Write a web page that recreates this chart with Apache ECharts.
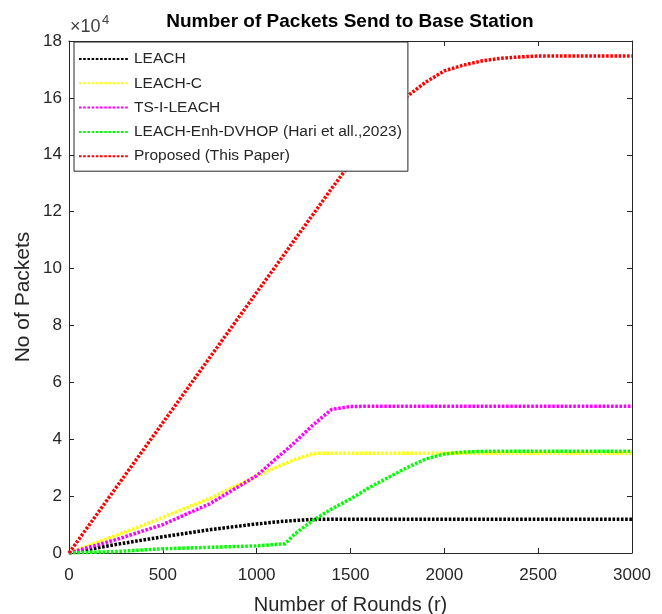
<!DOCTYPE html>
<html>
<head>
<meta charset="utf-8">
<script src="https://cdn.jsdelivr.net/npm/echarts@6/dist/echarts.min.js"></script>
<style>
html,body{margin:0;padding:0;background:#fff;}
#chart{width:662px;height:614px;}
</style>
</head>
<body>
<div id="chart"></div>
<script>
// Rounds (x values)
var rounds = [0, 250, 500, 750, 1000, 1100, 1150, 1200, 1300, 1400, 1500, 1600, 1700, 1800, 1900, 2000, 2100, 2200, 2300, 2400, 2500, 2750, 3000];
// Packets, in units of 10^4
var leach      = [0, 0.30, 0.57, 0.82, 1.02, 1.09, 1.12, 1.14, 1.18, 1.19, 1.19, 1.19, 1.19, 1.19, 1.19, 1.19, 1.19, 1.19, 1.19, 1.19, 1.19, 1.19, 1.19];
var leachC     = [0, 0.62, 1.25, 1.92, 2.70, 3.00, 3.14, 3.28, 3.50, 3.51, 3.51, 3.51, 3.51, 3.51, 3.51, 3.51, 3.51, 3.51, 3.51, 3.51, 3.51, 3.51, 3.51];
var tsILeach   = [0, 0.47, 1.00, 1.73, 2.72, 3.30, 3.58, 3.87, 4.50, 5.05, 5.15, 5.16, 5.16, 5.16, 5.16, 5.16, 5.16, 5.16, 5.16, 5.16, 5.16, 5.16, 5.16];
var enhDvhop   = [0, 0.05, 0.15, 0.20, 0.25, 0.30, 0.32, 0.65, 1.15, 1.55, 1.90, 2.30, 2.65, 3.00, 3.30, 3.48, 3.55, 3.57, 3.58, 3.58, 3.58, 3.58, 3.58];
var proposed   = [0, 2.29, 4.58, 6.87, 9.16, 10.07, 10.53, 10.99, 11.90, 12.82, 13.70, 14.55, 15.32, 16.05, 16.55, 16.95, 17.15, 17.30, 17.39, 17.44, 17.47, 17.47, 17.47];
var seriesNames = ['LEACH', 'LEACH-C', 'TS-I-LEACH', 'LEACH-Enh-DVHOP (Hari et all.,2023)', 'Proposed (This Paper)'];
var seriesColors = ['#000000', '#ffff00', '#ff00ff', '#00ff00', '#ff0000'];
var yTicks = [0, 2, 4, 6, 8, 10, 12, 14, 16, 18];
var xTicks = [0, 500, 1000, 1500, 2000, 2500, 3000];
var scale = 10000;

var allValues = [leach, leachC, tsILeach, enhDvhop, proposed];
var axisColor = '#262626';
var regular = "'Liberation Sans', Arial, sans-serif";

var chart = echarts.init(document.getElementById('chart'), null, {renderer: 'canvas'});

var series = allValues.map(function (vals, k) {
  return {
    name: seriesNames[k],
    type: 'line',
    xAxisIndex: 0,
    yAxisIndex: 0,
    symbol: 'none',
    showSymbol: false,
    smooth: false,
    animation: false,
    data: rounds.map(function (r, i) { return [r, vals[i] * scale]; }),
    itemStyle: {color: seriesColors[k]},
    lineStyle: {color: seriesColors[k], width: 3.5, type: [2.6, 1.6], cap: 'butt'},
    z: 2 + k
  };
});

var xMin = xTicks[0], xMax = xTicks[xTicks.length - 1], xInt = xTicks[1] - xTicks[0];
var yMin = yTicks[0] * scale, yMax = yTicks[yTicks.length - 1] * scale, yInt = (yTicks[1] - yTicks[0]) * scale;

function baseAxis(extra) {
  var o = {
    type: 'value',
    axisLine: {show: true, onZero: false, lineStyle: {color: axisColor, width: 1}},
    axisTick: {show: true, inside: true, length: 5, lineStyle: {color: axisColor, width: 1}},
    splitLine: {show: false}
  };
  for (var k in extra) o[k] = extra[k];
  return o;
}

chart.setOption({
  animation: false,
  backgroundColor: '#ffffff',
  title: {
    text: 'Number of Packets Send to Base Station',
    left: 350,
    top: 12,
    padding: 0,
    textAlign: 'center',
    textStyle: {fontSize: 19, fontWeight: 'bold', color: '#000000', fontFamily: regular}
  },
  grid: {left: 69, right: 30, top: 41, bottom: 61, containLabel: false, outerBoundsMode: 'none'},
  legend: {
    data: seriesNames,
    orient: 'vertical',
    left: 74,
    top: 42,
    padding: [9, 6, 7, 4],
    itemWidth: 50,
    itemHeight: 14,
    itemGap: 8.3,
    backgroundColor: '#ffffff',
    borderColor: axisColor,
    borderWidth: 1,
    borderRadius: 0,
    itemStyle: {opacity: 0},
    textStyle: {fontSize: 15.5, color: axisColor, fontFamily: regular, lineHeight: 16},
    z: 10
  },
  xAxis: [
    baseAxis({
      position: 'bottom', min: xMin, max: xMax, interval: xInt,
      axisLabel: {color: axisColor, fontSize: 17, fontFamily: regular, margin: 14,
        formatter: function (v) { return String(v); }},
      name: 'Number of Rounds (r)', nameLocation: 'middle', nameGap: 42, nameMoveOverlap: false,
      nameTextStyle: {fontSize: 20, color: axisColor, fontFamily: regular}
    }),
    baseAxis({
      position: 'top', min: xMin, max: xMax, interval: xInt,
      axisLabel: {show: false}
    })
  ],
  yAxis: [
    baseAxis({
      position: 'left', min: yMin, max: yMax, interval: yInt,
      axisLabel: {color: axisColor, fontSize: 17, fontFamily: regular, margin: 7,
        formatter: function (v) { return String(Math.round(v / scale)); }},
      name: 'No of Packets', nameLocation: 'middle', nameGap: 35, nameMoveOverlap: false,
      nameTextStyle: {fontSize: 21, color: axisColor, fontFamily: regular}
    }),
    baseAxis({
      position: 'right', min: yMin, max: yMax, interval: yInt,
      axisLabel: {show: false}
    })
  ],
  graphic: [
    {type: 'text', left: 70, top: 18, z: 20,
      style: {text: '×10', fontSize: 18, fontFamily: regular, fill: '#404040'}},
    {type: 'text', left: 102, top: 14, z: 20,
      style: {text: '4', fontSize: 13, fontFamily: regular, fill: '#404040'}}
  ],
  series: series
});
</script>
</body>
</html>
